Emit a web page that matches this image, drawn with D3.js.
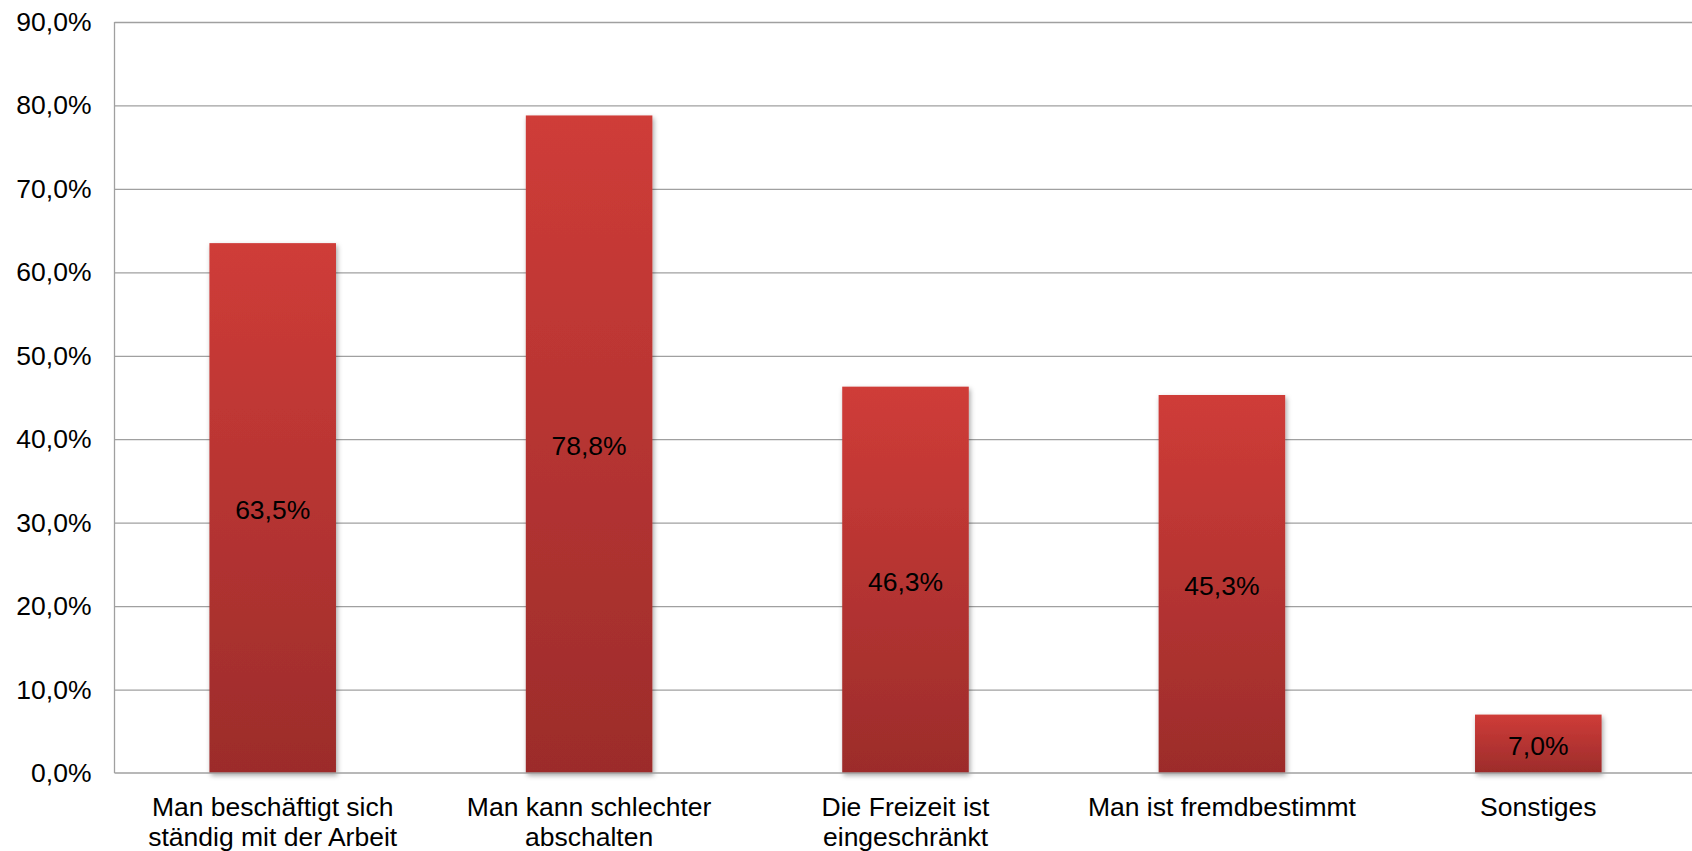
<!DOCTYPE html>
<html>
<head>
<meta charset="utf-8">
<script src="https://cdn.jsdelivr.net/npm/d3@7/dist/d3.min.js"></script>
<style>
  html, body { margin: 0; padding: 0; background: #fff; overflow: hidden; }
  text { font-family: "Liberation Sans", Arial, sans-serif; fill: #000; }
</style>
</head>
<body>
<svg id="chart" width="1692" height="851"></svg>
<script>
const categories = [
  "Man beschäftigt sich\nständig mit der Arbeit",
  "Man kann schlechter\nabschalten",
  "Die Freizeit ist\neingeschränkt",
  "Man ist fremdbestimmt",
  "Sonstiges"
];
const values = [63.5, 78.8, 46.3, 45.3, 7.0];
const yTicks = [0, 10, 20, 30, 40, 50, 60, 70, 80, 90];

(function () {
const W = 1692, H = 851;
const mLeft = 114.5, mRight = 1696.5, mTop = 22, mBottom = 773;
const fontSize = 26.5;

const loc = d3.formatLocale({decimal: ",", thousands: ".", grouping: [3], currency: ["", "€"]});
const fmt = v => loc.format(".1f")(v) + "%";

const svg = d3.select("#chart");
const defs = svg.append("defs");
const grad = defs.append("linearGradient").attr("id", "barGrad")
  .attr("x1", 0).attr("y1", 0).attr("x2", 0).attr("y2", 1);
grad.append("stop").attr("offset", "0%").attr("stop-color", "#cf3c38");
grad.append("stop").attr("offset", "100%").attr("stop-color", "#9c2c2b");
const filt = defs.append("filter").attr("id", "shadow")
  .attr("x", "-10%").attr("y", "-10%").attr("width", "130%").attr("height", "130%");
filt.append("feDropShadow").attr("dx", 1.5).attr("dy", 2.5).attr("stdDeviation", 2.5)
  .attr("flood-color", "#000").attr("flood-opacity", 0.35);

const x = d3.scaleBand().domain(categories).range([mLeft, mRight])
  .paddingInner(0.6).paddingOuter(0.3);
const y = d3.scaleLinear().domain([0, 90]).range([mBottom, mTop]);

// gridlines
const grid = svg.append("g")
  .attr("transform", `translate(${mLeft},0)`)
  .call(d3.axisRight(y).tickValues(yTicks.filter(t => t > 0)).tickSize(W - mLeft).tickFormat(""));
grid.select(".domain").remove();
grid.selectAll("line").attr("stroke", "#a0a0a0").attr("stroke-width", 1.3);

// y axis labels
const yAxis = svg.append("g")
  .attr("transform", `translate(${mLeft},0)`)
  .call(d3.axisLeft(y).tickValues(yTicks).tickSize(0).tickPadding(23).tickFormat(fmt));
yAxis.select(".domain").remove();
yAxis.selectAll("text").style("font-size", fontSize + "px")
  .style("font-family", '"Liberation Sans", Arial, sans-serif').attr("fill", "#000");

// bars
svg.append("g").selectAll("rect").data(values).join("rect")
  .attr("x", (d, i) => x(categories[i]))
  .attr("width", x.bandwidth())
  .attr("y", d => y(d))
  .attr("height", d => y(0) - y(d))
  .attr("fill", "url(#barGrad)")
  .attr("filter", "url(#shadow)");

// axis lines
svg.append("line").attr("x1", mLeft).attr("x2", mLeft).attr("y1", y(90)).attr("y2", y(0))
  .attr("stroke", "#a0a0a0").attr("stroke-width", 1.3);
svg.append("line").attr("x1", mLeft).attr("x2", W).attr("y1", y(0)).attr("y2", y(0))
  .attr("stroke", "#a0a0a0").attr("stroke-width", 1.5);

// value labels
svg.append("g").selectAll("text").data(values).join("text")
  .attr("x", (d, i) => x(categories[i]) + x.bandwidth() / 2)
  .attr("y", d => (y(d) + y(0)) / 2 + 11)
  .attr("text-anchor", "middle")
  .style("font-size", fontSize + "px")
  .text(d => fmt(d));

// category labels
const cl = svg.append("g").selectAll("text").data(categories).join("text")
  .attr("text-anchor", "middle")
  .style("font-size", fontSize + "px")
  .attr("transform", d => `translate(${x(d) + x.bandwidth() / 2},${mBottom + 42.5})`);
cl.each(function (d) {
  const lines = d.split("\n");
  d3.select(this).selectAll("tspan").data(lines).join("tspan")
    .attr("x", 0).attr("dy", (l, i) => i === 0 ? 0 : 30).text(l => l);
});
})();
</script>
</body>
</html>
